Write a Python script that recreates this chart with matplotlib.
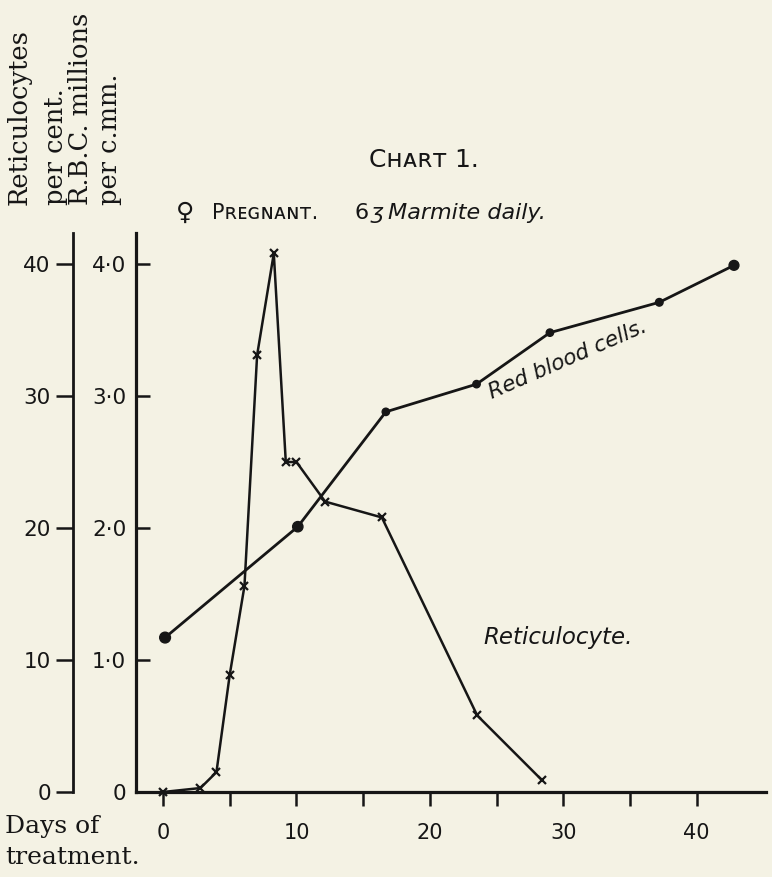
import matplotlib
matplotlib.use("Agg")
import matplotlib.pyplot as plt
from matplotlib.ticker import FuncFormatter

# reticulocytes (per cent) against days of treatment
ret_days = [0, 2.8, 4.0, 5.0, 6.1, 7.05, 8.3, 9.2, 10.0, 12.15, 16.4, 23.55, 28.4]
ret_pct = [0, 0.3, 1.5, 8.9, 15.6, 33.1, 40.8, 25.0, 25.0, 22.0, 20.8, 5.8, 0.9]

# red blood cells (millions per c.mm.)
rbc_days = [0.15, 10.1, 16.7, 23.5, 29.0, 37.2, 42.8]
rbc_mill = [1.17, 2.01, 2.88, 3.09, 3.48, 3.71, 3.99]

day_ticks = [0, 5, 10, 15, 20, 25, 30, 35, 40]
day_labels = ["0", "", "10", "", "20", "", "30", "", "40"]
pct_ticks = [0, 10, 20, 30, 40]
mill_ticks = [0, 1, 2, 3, 4]

paper = "#f4f2e4"
ink = "#161616"
W, H = 772, 877

fig = plt.figure(figsize=(7.72, 8.77), dpi=100, facecolor=paper)
ax = fig.add_axes([136 / W, 85 / H, 630 / W, 559 / H])
ax.set_facecolor("none")
ax.set_xlim(-2.03, 45.2)
ax.set_ylim(0, 4.235)

for s in ["top", "right"]:
    ax.spines[s].set_visible(False)
for s in ["left", "bottom"]:
    ax.spines[s].set_linewidth(2.3)
    ax.spines[s].set_color(ink)

ax.set_xticks(day_ticks)
ax.set_xticklabels(day_labels)
ax.tick_params(axis="x", direction="out", length=10, width=1.8, color=ink,
               pad=12, labelsize=15, labelcolor=ink)
ax.set_yticks(mill_ticks)
ax.yaxis.set_major_formatter(FuncFormatter(
    lambda v, p: "0" if v == 0 else f"{v:.1f}".replace(".", "\u00b7")))
ax.tick_params(axis="y", direction="in", length=10, width=1.8, color=ink,
               pad=7, labelsize=15.5, labelcolor=ink)

# outer axis for the reticulocyte percentage
ax2 = ax.twinx()
ax2.set_ylim(0, 42.35)
for s in ["top", "right", "bottom"]:
    ax2.spines[s].set_visible(False)
ax2.spines["left"].set_visible(True)
ax2.spines["left"].set_position(("axes", -63 / 630))
ax2.spines["left"].set_linewidth(2.0)
ax2.spines["left"].set_color(ink)
ax2.yaxis.set_ticks_position("left")
ax2.set_yticks(pct_ticks)
ax2.tick_params(axis="y", direction="out", length=12, width=1.8, color=ink,
                pad=4, labelsize=15.5, labelcolor=ink)

ax.plot(rbc_days, rbc_mill, color=ink, lw=2.0, clip_on=False, zorder=3)
dot_size = [60, 55, 28, 28, 28, 30, 50]
ax.scatter(rbc_days, rbc_mill, s=dot_size, color=ink, clip_on=False, zorder=4)
ax2.plot(ret_days, ret_pct, color=ink, lw=1.8, marker="x", ms=6, mew=1.6,
         clip_on=False, zorder=3)

ax2.text(30.3, 32.8, "Red blood cells.", rotation=23.5, ha="center", va="center",
         fontsize=15.5, style="italic", color=ink)
ax2.text(29.6, 11.7, "Reticulocyte.", ha="center", va="center",
         fontsize=16.5, style="italic", color=ink)

serif = "DejaVu Serif"
for x, s in [(19, "Reticulocytes"), (56, "per cent."), (80, "R.B.C. millions"),
             (110, "per c.mm.")]:
    fig.text(x / W, 1 - 205 / H, s, rotation=90, rotation_mode="anchor",
             ha="left", va="center", family=serif, fontsize=18.5, color=ink)

fig.text(5 / W, 1 - 826 / H, "Days of", ha="left", va="center",
         family=serif, fontsize=18, color=ink)
fig.text(5 / W, 1 - 857 / H, "treatment.", ha="left", va="center",
         family=serif, fontsize=18, color=ink)

fig.text(424 / W, 1 - 160 / H, "C\u029c\u1d00\u0280\u1d1b 1.", ha="center",
         va="center", fontsize=18, color=ink)

fig.text(185 / W, 1 - 213 / H, "\u2640", ha="center", va="center",
         fontsize=18, color=ink)
fig.text(212 / W, 1 - 213 / H, "P\u0280\u1d07\u0262\u0274\u1d00\u0274\u1d1b.",
         ha="left", va="center", fontsize=15, color=ink)
fig.text(354 / W, 1 - 213 / H, "6", ha="left", va="center",
         fontsize=16, color=ink)
fig.text(371 / W, 1 - 213 / H, "\u0292", ha="left", va="center",
         fontsize=16, style="italic", color=ink)
fig.text(388 / W, 1 - 213 / H, "Marmite daily.", ha="left", va="center",
         fontsize=16, style="italic", color=ink)

fig.savefig("out.png", dpi=100, facecolor=paper)
